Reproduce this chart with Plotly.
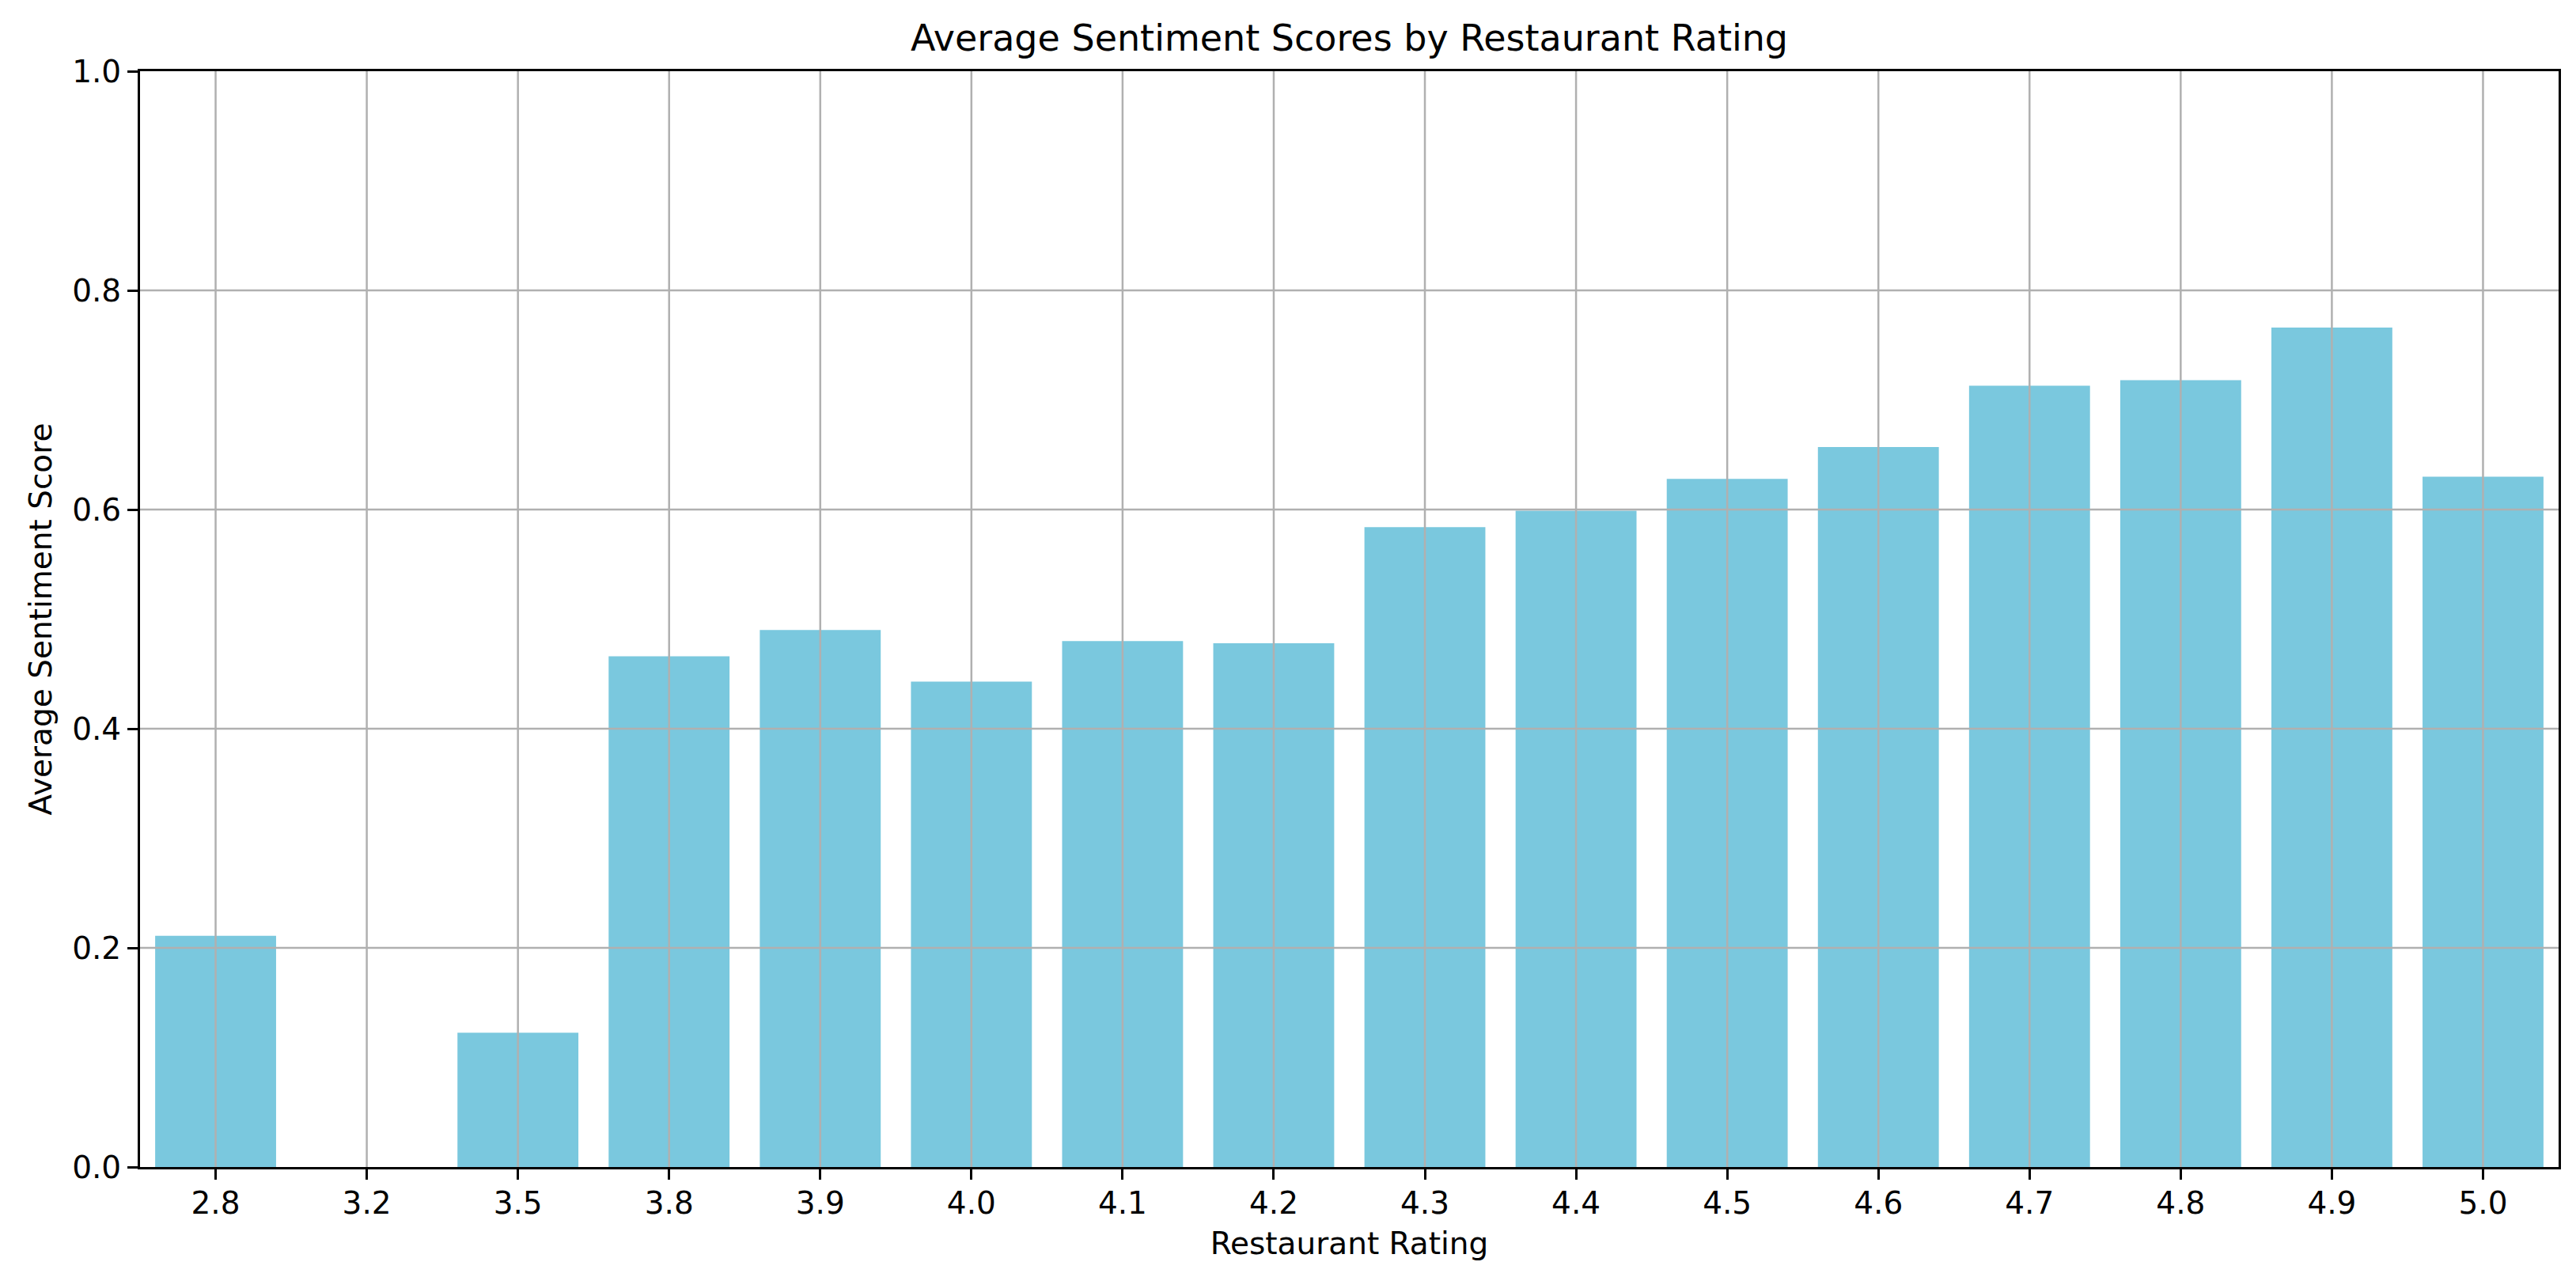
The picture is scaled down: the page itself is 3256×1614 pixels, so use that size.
import plotly.graph_objects as go

# ---- data ----
ratings = ["2.8", "3.2", "3.5", "3.8", "3.9", "4.0", "4.1", "4.2",
           "4.3", "4.4", "4.5", "4.6", "4.7", "4.8", "4.9", "5.0"]
avg_sentiment = [0.211, None, 0.1225, 0.466, 0.490, 0.443, 0.480, 0.478,
                 0.584, 0.599, 0.628, 0.657, 0.713, 0.718, 0.766, 0.630]
y_ticks = [0.0, 0.2, 0.4, 0.6, 0.8, 1.0]
y_tick_labels = ["0.0", "0.2", "0.4", "0.6", "0.8", "1.0"]

BAR_COLOR = "rgb(122,200,222)"
GRID_COLOR = "#b0b0b0"
FONT = "DejaVu Sans"

W, H = 3240, 1598  # page adds 8px body margin

fig = go.Figure()
fig.add_trace(go.Bar(
    x=ratings, y=avg_sentiment,
    marker=dict(color=BAR_COLOR, line=dict(width=0)),
    width=0.8,
))

# grid lines drawn above bars (matplotlib default axisbelow='line')
shapes = []
for i, _ in enumerate(ratings):
    shapes.append(dict(type="line", layer="above", xref="x", yref="paper",
                       x0=i, x1=i, y0=0, y1=1,
                       line=dict(color=GRID_COLOR, width=2.5)))
for yv in y_ticks[1:-1]:
    shapes.append(dict(type="line", layer="above", xref="paper", yref="y",
                       x0=0, x1=1, y0=yv, y1=yv,
                       line=dict(color=GRID_COLOR, width=2.5)))

fig.update_layout(
    width=W, height=H,
    margin=dict(l=169, r=14, t=82, b=131),
    paper_bgcolor="white", plot_bgcolor="white",
    font=dict(family=FONT, size=39, color="black"),
    showlegend=False,
    shapes=shapes,
    title=dict(text="Average Sentiment Scores by Restaurant Rating",
               x=0.5, xanchor="center", xref="paper",
               y=1 - 40 / H, yanchor="middle", yref="container",
               font=dict(family=FONT, size=46, color="black")),
    xaxis=dict(
        type="category", categoryorder="array", categoryarray=ratings,
        range=[-0.5, len(ratings) - 0.5],
        showgrid=False, zeroline=False, automargin=False,
        showline=True, linecolor="black", linewidth=3, mirror=True,
        ticks="outside", ticklen=13, tickwidth=3, tickcolor="black",
        tickfont=dict(family=FONT, size=39, color="black"),
        ticklabelstandoff=-4,
        title=dict(text="Restaurant Rating", standoff=16,
                   font=dict(family=FONT, size=39, color="black")),
        layer="above traces",
    ),
    yaxis=dict(
        range=[0, 1.0],
        tickvals=y_ticks, ticktext=y_tick_labels,
        showgrid=False, zeroline=False, automargin=False,
        showline=True, linecolor="black", linewidth=3, mirror=True,
        ticks="outside", ticklen=13, tickwidth=3, tickcolor="black",
        tickfont=dict(family=FONT, size=39, color="black"),
        title=dict(text="Average Sentiment Score", standoff=14,
                   font=dict(family=FONT, size=39, color="black")),
        layer="above traces",
    ),
)

fig.write_html("out.html")
